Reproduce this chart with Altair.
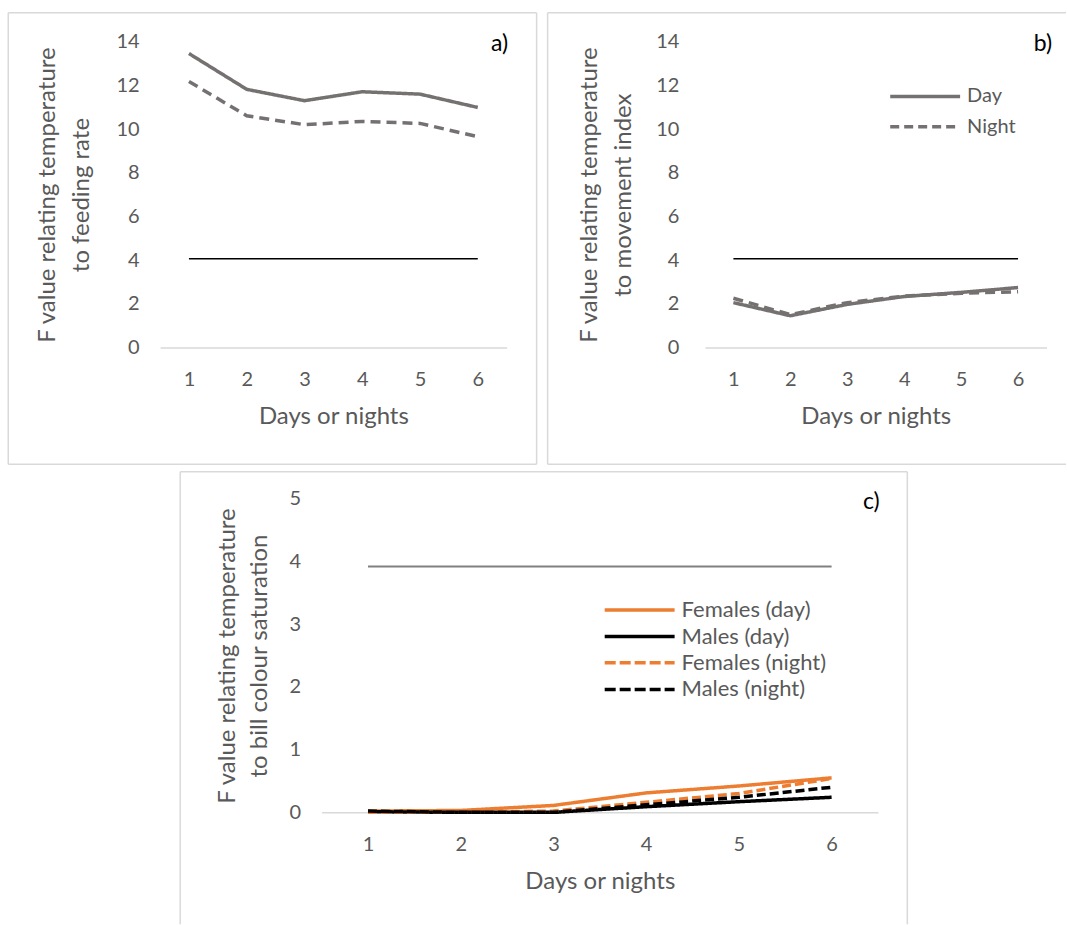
import altair as alt
import pandas as pd

# ---------------- data ----------------
days = [1, 2, 3, 4, 5, 6]
ab_series = ["Day", "Night"]
a_day = [13.46, 11.82, 11.30, 11.71, 11.60, 10.99]
a_night = [12.18, 10.61, 10.20, 10.35, 10.26, 9.65]
b_day = [2.05, 1.45, 1.97, 2.33, 2.52, 2.74]
b_night = [2.25, 1.50, 2.05, 2.35, 2.48, 2.55]
c_series = ["Females (day)", "Males (day)", "Females (night)", "Males (night)"]
c_fem_day = [0.02, 0.03, 0.11, 0.31, 0.42, 0.55]
c_male_day = [0.01, 0.00, 0.00, 0.09, 0.17, 0.24]
c_fem_night = [0.00, 0.00, 0.02, 0.16, 0.30, 0.54]
c_male_night = [0.02, 0.00, 0.00, 0.12, 0.24, 0.40]
ref_ab = 4.06
ref_c = 3.92
ab_ticks = [0, 2, 4, 6, 8, 10, 12, 14]
c_ticks = [0, 1, 2, 3, 4, 5]
x_title = "Days or nights"
a_ytitle = ["F value relating temperature", "to feeding rate"]
b_ytitle = ["F value relating temperature", "to movement index"]
c_ytitle = ["F value relating temperature", "to bill colour saturation"]
panel_labels = ["a)", "b)", "c)"]

# ---------------- style ----------------
FONT = "Lato"
GRAY = "#595959"
LINE_GRAY = "#767171"
ORANGE = "#ED7D31"
BLACK = "#000000"
BORDER = "#D9D9D9"
SOLID = [1, 0]
AB_DASH = [10, 6]
C_DASH = [9, 4]

dummy = pd.DataFrame({"k": [0]})


def make_df(names, series_vals):
    rows = []
    for n, vals in zip(names, series_vals):
        for d, v in zip(days, vals):
            rows.append({"day": d, "value": v, "series": n})
    return pd.DataFrame(rows)


def border_layers(left, right, top, bottom, sides):
    out = []
    if "top" in sides:
        out.append(((left, right), (top, top)))
    if "bottom" in sides:
        out.append(((left, right), (bottom, bottom)))
    if "left" in sides:
        out.append(((left, left), (top, bottom)))
    if "right" in sides:
        out.append(((right, right), (top, bottom)))
    layers = []
    for (x0, x1), (y0, y1) in out:
        layers.append(
            alt.Chart(dummy).mark_rule(color=BORDER, strokeWidth=1.5).encode(
                x=alt.value(x0), x2=alt.value(x1), y=alt.value(y0), y2=alt.value(y1)
            )
        )
    return layers


def legend_layers(names, colors, dashes, x0, x1, tx, ys, sw, fs):
    layers = []
    for n, c, d, yy in zip(names, colors, dashes, ys):
        layers.append(
            alt.Chart(dummy).mark_rule(color=c, strokeWidth=sw, strokeDash=d, strokeCap="butt").encode(
                x=alt.value(x0), x2=alt.value(x1), y=alt.value(yy)
            )
        )
        layers.append(
            alt.Chart(dummy).mark_text(
                text=n, align="left", baseline="middle", font=FONT, fontSize=fs, color=GRAY
            ).encode(x=alt.value(tx), y=alt.value(yy))
        )
    return layers


def panel(df, names, colors, dashes, line_w, ymax, ticks, ref, ref_color, ref_w,
          w, h, ytitle, ylabel_pad, title_x, title_lh, label_text, label_pos,
          border, sides, legend):
    xenc = alt.X(
        "day:Q",
        scale=alt.Scale(domain=[0.5, 6.5], nice=False, zero=False),
        axis=alt.Axis(values=days, title=x_title, format="d", labelPadding=38,
                      labelBaseline="alphabetic", titleY=76, titleBaseline="alphabetic"),
    )
    yenc = alt.Y(
        "value:Q",
        scale=alt.Scale(domain=[0, ymax], nice=False),
        axis=alt.Axis(values=ticks, title=ytitle, labelPadding=ylabel_pad,
                      titleX=title_x, titleY=h / 2, titleAngle=270, titleAlign="center",
                      titleBaseline="alphabetic", titleLineHeight=title_lh),
    )
    lines = alt.Chart(df).mark_line(strokeWidth=line_w, strokeCap="butt").encode(
        x=xenc,
        y=yenc,
        color=alt.Color("series:N", scale=alt.Scale(domain=names, range=colors), legend=None),
        strokeDash=alt.StrokeDash("series:N", scale=alt.Scale(domain=names, range=dashes), legend=None),
        order=alt.Order("day:Q"),
    )
    ref_df = pd.DataFrame({"day": [days[0]], "day2": [days[-1]], "value": [ref]})
    ref_rule = alt.Chart(ref_df).mark_rule(color=ref_color, strokeWidth=ref_w).encode(
        x=xenc, x2=alt.X2("day2:Q"), y=yenc
    )
    lab = alt.Chart(dummy).mark_text(
        text=label_text, align="center", baseline="middle", font=FONT, fontSize=23, color=BLACK
    ).encode(x=alt.value(label_pos[0]), y=alt.value(label_pos[1]))
    layers = border_layers(*border, sides) + [ref_rule, lines, lab] + legend
    return alt.layer(*layers).properties(width=w, height=h)


df_a = make_df(ab_series, [a_day, a_night])
df_b = make_df(ab_series, [b_day, b_night])
df_c = make_df(c_series, [c_fem_day, c_male_day, c_fem_night, c_male_night])

chart_a = panel(
    df_a, ab_series, [LINE_GRAY, LINE_GRAY], [SOLID, AB_DASH], 3.5, 14, ab_ticks,
    ref_ab, BLACK, 1.3, 347, 306, a_ytitle, 21, -106, 34, panel_labels[0], (340, 2),
    (-152, 377, -29, 423), ["top", "bottom", "left", "right"], [],
)

chart_b = panel(
    df_b, ab_series, [LINE_GRAY, LINE_GRAY], [SOLID, AB_DASH], 3.5, 14, ab_ticks,
    ref_ab, BLACK, 1.3, 342, 306, b_ytitle, 26, -109, 34, panel_labels[1], (338.5, 2),
    (-157.5, 361.5, -29, 423), ["top", "bottom", "left"],
    legend_layers(ab_series, [LINE_GRAY, LINE_GRAY], [SOLID, [9, 5]],
                  185.5, 255.5, 262.5, [54.7, 85], 3.5, 20),
)

chart_c = panel(
    df_c, c_series, [ORANGE, BLACK, ORANGE, BLACK], [SOLID, SOLID, C_DASH, C_DASH], 3.5, 5, c_ticks,
    ref_c, "#808080", 2, 557, 314, c_ytitle, 21, -87, 32, panel_labels[2], (550.4, 3),
    (-141.6, 586.4, -27, 426), ["top", "left", "right"],
    legend_layers(c_series, [ORANGE, BLACK, ORANGE, BLACK], [SOLID, SOLID, [11, 4], [11, 4]],
                  283.4, 353.4, 360.4, [111.3, 138, 164.3, 191], 3.5, 22),
)

# invisible spacer that sits under panel a's plot origin so panel c can be offset
spacer = alt.Chart(dummy).mark_rule(color="#FFFFFF", strokeWidth=1).encode(
    x=alt.value(0), x2=alt.value(10), y=alt.value(5)
).properties(width=10, height=10)

top_row = alt.hconcat(chart_a, chart_b, spacing=8.5).resolve_scale(
    color="independent", strokeDash="independent")
bottom_row = alt.hconcat(spacer, chart_c, spacing=7.75).resolve_scale(
    color="independent", strokeDash="independent")

chart = (
    alt.vconcat(top_row, bottom_row, spacing=5.5)
    .resolve_scale(color="independent", strokeDash="independent")
    .properties(padding={"left": 7.25, "top": 11.25, "right": 0, "bottom": 0})
    .configure_axis(
        labelFont=FONT, labelFontSize=20, labelColor=GRAY,
        titleFont=FONT, titleFontSize=24, titleColor=GRAY, titleFontWeight="normal",
        grid=False, ticks=False, tickSize=0, domain=False,
    )
    .configure_axisX(domain=True, domainColor=BORDER, domainWidth=1.5)
    .configure_view(strokeWidth=0)
)

chart.save("out.html", embed_options={"renderer": "svg", "actions": False})
